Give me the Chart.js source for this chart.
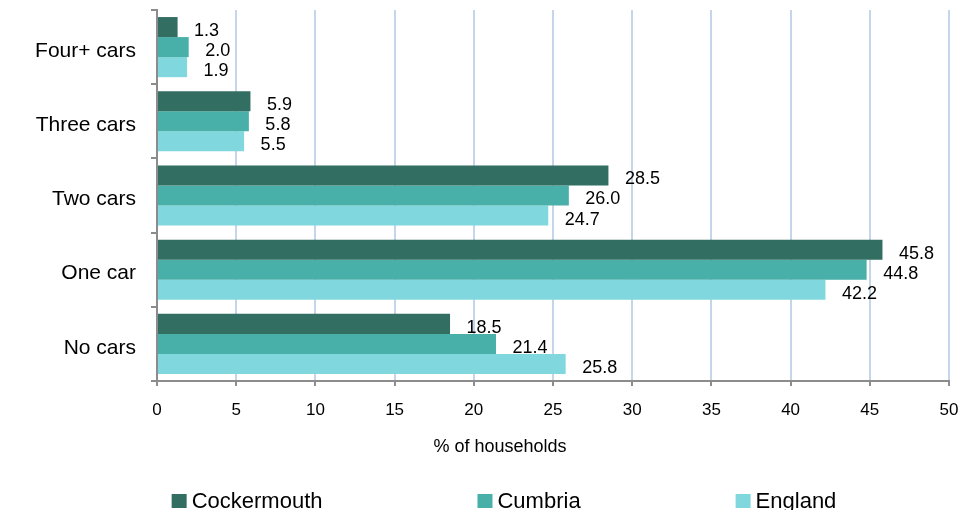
<!DOCTYPE html>
<html>
<head>
<meta charset="utf-8">
<script src="https://cdn.jsdelivr.net/npm/chart.js@4/dist/chart.umd.min.js"></script>
<style>
  html, body { margin: 0; padding: 0; background: #ffffff; overflow: hidden; }
  #wrap { width: 960px; height: 510px; position: relative; }
</style>
</head>
<body>
<div id="wrap"><canvas id="c" width="960" height="510"></canvas></div>
<script>
const categories = ['Four+ cars', 'Three cars', 'Two cars', 'One car', 'No cars'];
const seriesNames = ['Cockermouth', 'Cumbria', 'England'];
const cockermouth = [1.3, 5.9, 28.5, 45.8, 18.5];
const cumbria = [2.0, 5.8, 26.0, 44.8, 21.4];
const england = [1.9, 5.5, 24.7, 42.2, 25.8];
const xTicks = [0, 5, 10, 15, 20, 25, 30, 35, 40, 45, 50];
const axisTitle = '% of households';

const colors = ['#336E62', '#48AFA9', '#80D8DE'];
const FONT = '"Liberation Sans", Arial, sans-serif';

const dataLabels = {
  id: 'dataLabels',
  afterDatasetsDraw(chart) {
    const ctx = chart.ctx;
    ctx.save();
    ctx.font = '18px ' + FONT;
    ctx.fillStyle = '#000';
    ctx.textAlign = 'left';
    ctx.textBaseline = 'middle';
    chart.data.datasets.forEach((ds, di) => {
      const meta = chart.getDatasetMeta(di);
      meta.data.forEach((el, i) => {
        ctx.fillText(ds.data[i].toFixed(1), el.x + 16.5, el.y + 4);
      });
    });
    ctx.restore();
  }
};

const shiftYLabels = {
  id: 'shiftYLabels',
  beforeDraw(chart) {
    const items = chart.scales.y.getLabelItems();
    items.forEach(it => {
      if (!it._shifted) {
        it.options.translation = [it.options.translation[0], it.options.translation[1] + 4];
        it._shifted = true;
      }
    });
  }
};

const extras = {
  id: 'extras',
  afterDraw(chart) {
    const ctx = chart.ctx;
    ctx.save();
    // axis title
    ctx.font = '18px ' + FONT;
    ctx.fillStyle = '#000';
    ctx.textAlign = 'center';
    ctx.textBaseline = 'alphabetic';
    ctx.fillText(axisTitle, 500, 452);
    // legend
    ctx.font = '22px ' + FONT;
    const gap = 155, box = 15, boxGap = 5;
    const widths = chart.data.datasets.map(d => box + boxGap + ctx.measureText(d.label).width);
    const total = widths.reduce((a, b) => a + b, 0) + gap * (widths.length - 1);
    let x = 504 - total / 2;
    ctx.textAlign = 'left';
    chart.data.datasets.forEach((d, i) => {
      ctx.fillStyle = d.backgroundColor;
      ctx.fillRect(x, 494, box, 14);
      ctx.fillStyle = '#000';
      ctx.fillText(d.label, x + box + boxGap, 508);
      x += widths[i] + gap;
    });
    ctx.restore();
  }
};

function noPad(scale) {
  scale.paddingLeft = 0;
  scale.paddingRight = 0;
  scale.paddingTop = 0;
  scale.paddingBottom = 0;
}

new Chart(document.getElementById('c'), {
  type: 'bar',
  data: {
    labels: categories,
    datasets: [
      { label: seriesNames[0], data: cockermouth, backgroundColor: colors[0] },
      { label: seriesNames[1], data: cumbria, backgroundColor: colors[1] },
      { label: seriesNames[2], data: england, backgroundColor: colors[2] }
    ]
  },
  options: {
    indexAxis: 'y',
    responsive: false,
    animation: false,
    devicePixelRatio: 1,
    layout: { padding: { top: 10, right: 11, bottom: 0, left: 0 } },
    datasets: { bar: { categoryPercentage: 0.81, barPercentage: 1.0 } },
    plugins: {
      legend: { display: false },
      tooltip: { enabled: false }
    },
    scales: {
      x: {
        min: 0, max: 50,
        afterBuildTicks(scale) { scale.ticks = xTicks.map(v => ({ value: v })); },
        afterFit(scale) { scale.height = 129; noPad(scale); },
        grid: {
          color: (c) => c.index === 0 ? 'rgba(0,0,0,0)' : '#C5D5EA',
          lineWidth: 2,
          tickColor: '#8C8C8C',
          tickLength: 5,
          drawTicks: true
        },
        border: { color: '#8C8C8C', width: 2 },
        ticks: {
          font: { family: FONT, size: 17 },
          color: '#000',
          padding: 14,
          maxRotation: 0
        }
      },
      y: {
        afterFit(scale) { scale.width = 157; noPad(scale); },
        grid: {
          offset: true,
          drawOnChartArea: false,
          color: '#8C8C8C',
          lineWidth: 2,
          tickLength: 6
        },
        border: { color: '#8C8C8C', width: 2 },
        ticks: {
          font: { family: FONT, size: 21 },
          color: '#000',
          padding: 15
        }
      }
    }
  },
  plugins: [shiftYLabels, dataLabels, extras]
});
</script>
</body>
</html>
